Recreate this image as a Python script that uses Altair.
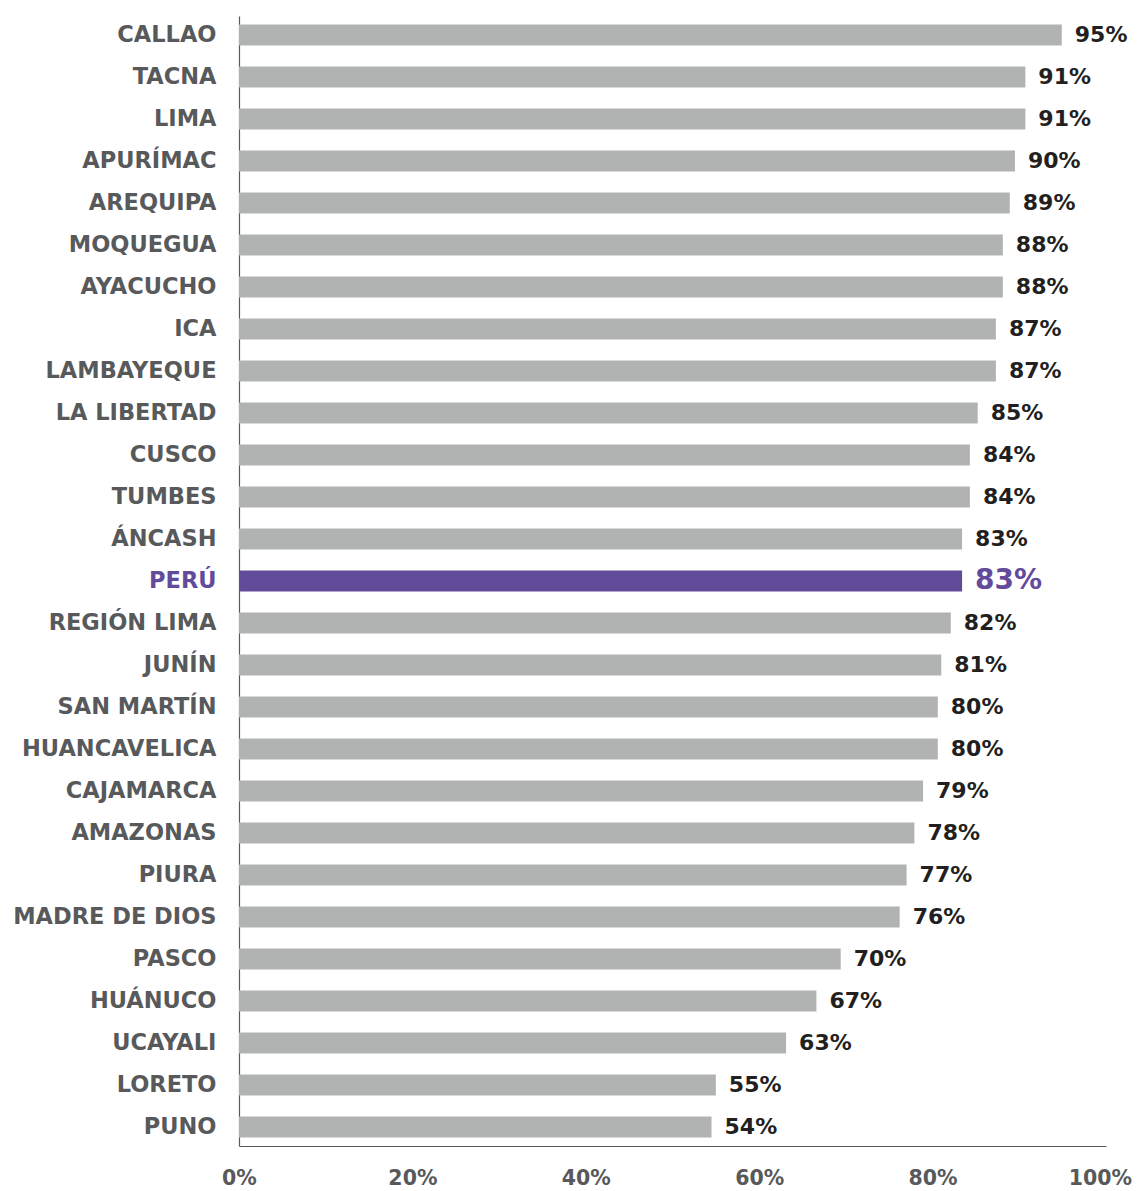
import altair as alt
import pandas as pd

regions = ["CALLAO", "TACNA", "LIMA", "APURÍMAC", "AREQUIPA", "MOQUEGUA", "AYACUCHO",
           "ICA", "LAMBAYEQUE", "LA LIBERTAD", "CUSCO", "TUMBES", "ÁNCASH", "PERÚ",
           "REGIÓN LIMA", "JUNÍN", "SAN MARTÍN", "HUANCAVELICA", "CAJAMARCA", "AMAZONAS",
           "PIURA", "MADRE DE DIOS", "PASCO", "HUÁNUCO", "UCAYALI", "LORETO", "PUNO"]
values = [94.9, 90.7, 90.7, 89.5, 88.9, 88.1, 88.1,
          87.3, 87.3, 85.2, 84.3, 84.3, 83.4, 83.4,
          82.1, 81.0, 80.6, 80.6, 78.9, 77.9,
          77.0, 76.2, 69.4, 66.6, 63.1, 55.0, 54.5]
labels = ["95%", "91%", "91%", "90%", "89%", "88%", "88%",
          "87%", "87%", "85%", "84%", "84%", "83%", "83%",
          "82%", "81%", "80%", "80%", "79%", "78%",
          "77%", "76%", "70%", "67%", "63%", "55%", "54%"]
x_ticks = [0, 20, 40, 60, 80, 100]

df = pd.DataFrame({"region": regions, "value": values, "label": labels})

GRAY = "#b1b3b3"
PURPLE = "#634b9c"
TXT = "#58595b"
FONT = "DejaVu Sans"

is_peru = alt.datum.region == "PERÚ"

y_enc = alt.Y(
    "region:N",
    sort=regions,
    title=None,
    scale=alt.Scale(paddingInner=0.5, paddingOuter=0.2),
    axis=alt.Axis(
        labelFont=FONT,
        labelFontSize=22.5,
        labelFontWeight="bold",
        labelColor={"condition": {"test": "datum.value === 'PERÚ'", "value": PURPLE}, "value": TXT},
        labelPadding=23,
        labelLimit=400,
        ticks=False,
        tickSize=0,
        domainColor=TXT,
        domainWidth=1.2,
        grid=False,
    ),
)

x_enc = alt.X(
    "value:Q",
    title=None,
    scale=alt.Scale(domain=[0, 100], nice=False),
    axis=alt.Axis(
        values=x_ticks,
        labelExpr="datum.value + '%'",
        labelFont=FONT,
        labelFontSize=20.5,
        labelFontWeight="bold",
        labelColor=TXT,
        labelPadding=22,
        labelFlush=False,
        labelOffset={"condition": {"test": "datum.value === 100", "value": -6}, "value": 0},
        ticks=False,
        tickSize=0,
        domainColor=TXT,
        domainWidth=1.2,
        grid=False,
    ),
)

bars = alt.Chart(df).mark_bar().encode(
    x=x_enc,
    y=y_enc,
    color=alt.condition(is_peru, alt.value(PURPLE), alt.value(GRAY)),
)

text = alt.Chart(df).mark_text(
    align="left", baseline="middle", dx=13, font=FONT, fontWeight="bold"
).encode(
    x="value:Q",
    y=alt.Y("region:N", sort=regions),
    text="label:N",
    color=alt.condition(is_peru, alt.value(PURPLE), alt.value("#231f20")),
    size=alt.condition(is_peru, alt.value(28), alt.value(22)),
)

chart = (
    alt.layer(bars, text)
    .properties(
        width=867,
        height=1130,
        autosize=alt.AutoSizeParams(type="none"),
        padding={"left": 231, "top": 8, "right": 26, "bottom": 45},
    )
    .configure(background="white")
    .configure_view(stroke="transparent", strokeWidth=0)
)

chart.save("out.html", embed_options={"renderer": "svg", "actions": False})
